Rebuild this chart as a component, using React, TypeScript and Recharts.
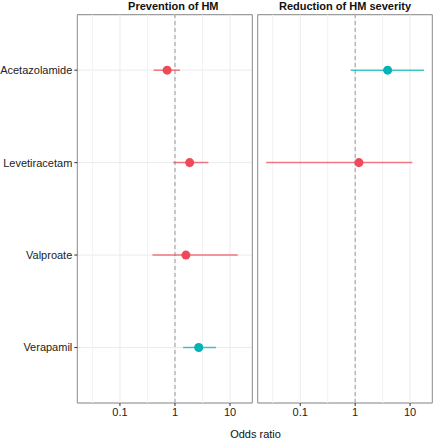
import React from 'react';
import {
  ScatterChart, Scatter, XAxis, YAxis, ZAxis, CartesianGrid, ReferenceLine,
  ReferenceArea, ErrorBar,
} from 'recharts';

const drugs = ['Acetazolamide', 'Levetiracetam', 'Valproate', 'Verapamil'];

// Prevention of HM
const prevDrug = [0, 1, 2, 3];
const prevOR = [0.72, 1.85, 1.58, 2.7];
const prevLo = [0.41, 0.93, 0.39, 1.4];
const prevHi = [1.23, 4.04, 13.8, 5.56];
const prevGroup = ['red', 'red', 'red', 'teal'];

// Reduction of HM severity
const sevDrug = [0, 1];
const sevOR = [3.9, 1.17];
const sevLo = [0.83, 0.024];
const sevHi = [18, 11];
const sevGroup = ['teal', 'red'];

const xTicks = [0.1, 1, 10];
const xMinor = [0.0316, 0.316, 3.16];
const xDomain = [0.0168, 25.4];
const yTicks = [1, 2, 3, 4];

const COLORS: Record<string, string> = { red: '#EF4A5A', teal: '#00B3B6' };
const FONT = '"Liberation Sans", Arial, sans-serif';

function build(drug: number[], or: number[], lo: number[], hi: number[], grp: string[], g: string) {
  return drug
    .map((d, i) => ({ x: or[i], y: d + 1, err: [or[i] - lo[i], hi[i] - or[i]], g: grp[i] }))
    .filter((r) => r.g === g);
}

function Panel(props: {
  title: string; width: number; margin: any; yWidth: number; showY: boolean;
  drug: number[]; or: number[]; lo: number[]; hi: number[]; grp: string[];
}) {
  const { title, width, margin, yWidth, showY, drug, or, lo, hi, grp } = props;
  const groups = ['red', 'teal'];
  return (
    <ScatterChart width={width} height={440} margin={margin} style={{ fontFamily: FONT }}>
      <CartesianGrid vertical={false} stroke="#ebebeb" strokeWidth={1} />
      {xMinor.map((v) => (
        <ReferenceLine key={'m' + v} x={v} stroke="#f2f2f2" strokeWidth={1} />
      ))}
      {xTicks.map((v) => (
        <ReferenceLine key={'M' + v} x={v} stroke="#ebebeb" strokeWidth={1} />
      ))}
      <ReferenceLine x={1} stroke="#9a9a9a" strokeDasharray="4 3" strokeWidth={1} />
      <XAxis
        type="number" dataKey="x" scale="log" domain={xDomain} allowDataOverflow
        ticks={xTicks} tickFormatter={(v: number) => String(v)} height={20}
        axisLine={false} tickSize={3} tickLine={{ stroke: '#333' }}
        tick={{ fontSize: 11, fill: '#222', fontFamily: FONT }} interval={0}
      />
      <YAxis
        type="number" dataKey="y" domain={[0.4, 4.6]} reversed ticks={yTicks}
        width={yWidth} axisLine={false} interval={0}
        tickSize={showY ? 3 : 0} tickLine={showY ? { stroke: '#333' } : false}
        tick={showY ? { fontSize: 11, fill: '#222', fontFamily: FONT } : false}
        tickFormatter={(v: number) => drugs[v - 1]}
      />
      <ZAxis range={[72, 72]} />
      {groups.map((g) => (
        <Scatter
          key={g} data={build(drug, or, lo, hi, grp, g)} fill={COLORS[g]}
          isAnimationActive={false} shape="circle"
        >
          <ErrorBar dataKey="err" direction="x" width={0} stroke={COLORS[g]} strokeOpacity={0.75} strokeWidth={1.5} />
        </Scatter>
      ))}
      <ReferenceArea
        x1={xDomain[0]} x2={xDomain[1]} y1={0.4} y2={4.6} fill="none" fillOpacity={0}
        stroke="#8a8a8a" strokeWidth={1} ifOverflow="visible"
        label={{ value: title, position: 'top', offset: 5, fontSize: 11, fontWeight: 'bold', fill: '#111', fontFamily: FONT, dx: title.startsWith('Prev') ? 8.5 : 0 }}
      />
    </ScatterChart>
  );
}

export default function App() {
  return (
    <div style={{ position: 'absolute', left: 0, top: 0, width: 435, height: 440, background: '#fff', fontFamily: FONT }}>
      <div style={{ display: 'flex' }}>
        <Panel
          title="Prevention of HM" width={253} yWidth={77.3} showY
          margin={{ top: 14.7, right: 0.7, left: 0, bottom: 17 }}
          drug={prevDrug} or={prevOR} lo={prevLo} hi={prevHi} grp={prevGroup}
        />
        <Panel
          title="Reduction of HM severity" width={182} yWidth={0} showY={false}
          margin={{ top: 14.7, right: 2.7, left: 4.7, bottom: 17 }}
          drug={sevDrug} or={sevOR} lo={sevLo} hi={sevHi} grp={sevGroup}
        />
      </div>
      <div style={{ position: 'absolute', left: 77, width: 357, top: 428, textAlign: 'center', fontSize: 11, lineHeight: '13px', color: '#111' }}>
        Odds ratio
      </div>
    </div>
  );
}
